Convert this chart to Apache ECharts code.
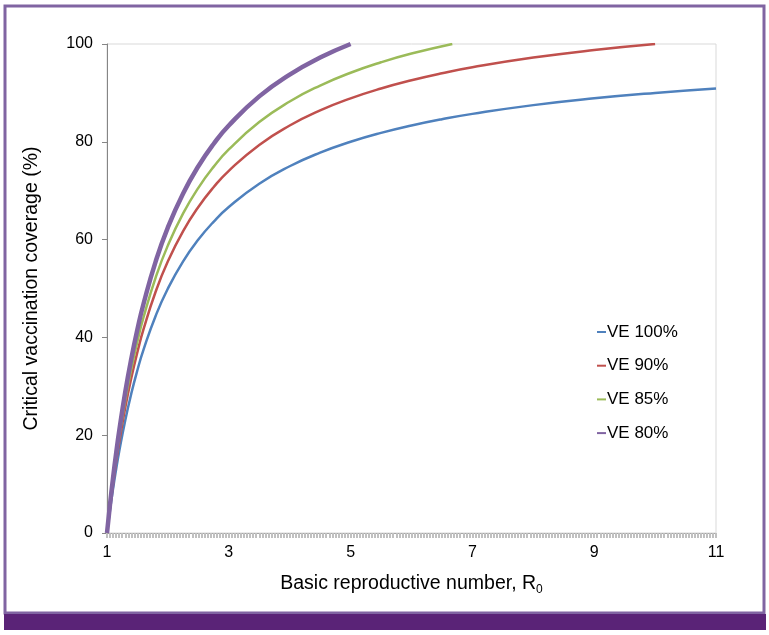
<!DOCTYPE html>
<html>
<head>
<meta charset="utf-8">
<script src="https://cdn.jsdelivr.net/npm/echarts@6/dist/echarts.min.js"></script>
<style>
html,body{margin:0;padding:0;background:#fff;}
#c{width:769px;height:635px;}
</style>
</head>
<body>
<div id="c"></div>
<script>
// Basic reproductive number R0 -> critical vaccination coverage (%)
const seriesNames = ['VE 100%', 'VE 90%', 'VE 85%', 'VE 80%'];
const xTickLabels = [1, 3, 5, 7, 9, 11];
const yTickLabels = [0, 20, 40, 60, 80, 100];

const ve100 = [[1,0],[1.05,4.76],[1.1,9.09],[1.15,13.04],[1.2,16.67],[1.3,23.08],[1.4,28.57],[1.5,33.33],[1.6,37.5],[1.8,44.44],[2,50],[2.25,55.56],[2.5,60],[2.75,63.64],[3,66.67],[3.5,71.43],[4,75],[4.5,77.78],[5,80],[5.5,81.82],[6,83.33],[6.5,84.62],[7,85.71],[8,87.5],[9,88.89],[10,90],[11,90.91]];
const ve90 = [[1,0],[1.05,5.29],[1.1,10.1],[1.15,14.49],[1.2,18.52],[1.3,25.64],[1.4,31.75],[1.5,37.04],[1.6,41.67],[1.8,49.38],[2,55.56],[2.25,61.73],[2.5,66.67],[2.75,70.71],[3,74.07],[3.5,79.37],[4,83.33],[4.5,86.42],[5,88.89],[5.5,90.91],[6,92.59],[6.5,94.02],[7,95.24],[8,97.22],[9,98.77],[10,100]];
const ve85 = [[1,0],[1.05,5.6],[1.1,10.7],[1.15,15.34],[1.2,19.61],[1.3,27.15],[1.4,33.61],[1.5,39.22],[1.6,44.12],[1.8,52.29],[2,58.82],[2.25,65.36],[2.5,70.59],[2.75,74.87],[3,78.43],[3.5,84.03],[4,88.24],[4.5,91.5],[5,94.12],[5.5,96.26],[6,98.04],[6.67,100]];
const ve80 = [[1,0],[1.05,5.95],[1.1,11.36],[1.15,16.3],[1.2,20.83],[1.3,28.85],[1.4,35.71],[1.5,41.67],[1.6,46.88],[1.8,55.56],[2,62.5],[2.25,69.44],[2.5,75],[2.75,79.55],[3,83.33],[3.5,89.29],[4,93.75],[4.5,97.22],[5,100]];

const colors = ['#4f81bd', '#c0504d', '#9bbb59', '#8064a2'];
const widths = [2.5, 2.5, 2.5, 4.5];
const seriesData = [ve100, ve90, ve85, ve80];

const FONT = '"Liberation Sans", Arial, sans-serif';
const chart = echarts.init(document.getElementById('c'), null, {renderer: 'canvas'});

chart.setOption({
  animation: false,
  backgroundColor: '#fff',
  color: colors,
  grid: {left: 107, right: 53, top: 44, bottom: 102, show: true, borderColor: '#d9d9d9', borderWidth: 1, backgroundColor: 'transparent'},
  legend: {
    orient: 'vertical', left: 597, top: 323.5, itemGap: 16.7, padding: 0,
    itemWidth: 9, itemHeight: 2, icon: 'rect',
    textStyle: {fontFamily: FONT, fontSize: 17, color: '#000', padding: [0,0,0,-4]},
    data: seriesNames
  },
  xAxis: {
    type: 'value', min: 1, max: 11, interval: 2,
    name: 'Basic reproductive number, R{sub|0}',
    nameLocation: 'middle', nameGap: 39,
    nameTextStyle: {fontFamily: FONT, fontSize: 19.5, color: '#000', rich: {sub: {fontFamily: FONT, fontSize: 12, verticalAlign: 'bottom', padding: [12,0,0,0], color: '#000'}}},
    axisLine: {show: true, lineStyle: {color: '#a6a6a6', width: 1}},
    axisTick: {show: true, length: 5, inside: false, lineStyle: {color: '#c0c0c0', width: 2}},
    minorTick: {show: true, splitNumber: 40, length: 5, lineStyle: {color: '#c0c0c0', width: 2}},
    splitLine: {show: false},
    axisLabel: {fontFamily: FONT, fontSize: 16, color: '#000', margin: 12, customValues: xTickLabels}
  },
  yAxis: {
    type: 'value', min: 0, max: 100, interval: 20,
    name: 'Critical vaccination coverage (%)',
    nameLocation: 'middle', nameGap: 65,
    nameTextStyle: {fontFamily: FONT, fontSize: 19.5, color: '#000'},
    axisLine: {show: true, lineStyle: {color: '#868686'}},
    axisTick: {show: true, length: 5, lineStyle: {color: '#868686'}},
    splitLine: {show: false},
    axisLabel: {fontFamily: FONT, fontSize: 16, color: '#000', margin: 14, customValues: yTickLabels}
  },
  series: seriesNames.map((n, i) => ({
    name: n, type: 'line', data: seriesData[i],
    showSymbol: false, smooth: 0.5,
    lineStyle: {width: widths[i], color: colors[i]},
    itemStyle: {color: colors[i]},
    z: 2 + i
  })),
  graphic: [
    {type: 'rect', shape: {x: 5, y: 6, width: 759, height: 607}, style: {fill: 'none', stroke: '#8064a2', lineWidth: 3}, silent: true, z: 100},
    {type: 'rect', shape: {x: 4, y: 614, width: 762, height: 16}, style: {fill: '#5a2377'}, silent: true, z: 100}
  ]
});
</script>
</body>
</html>
